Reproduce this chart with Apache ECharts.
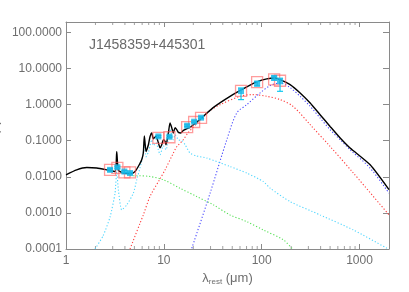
<!DOCTYPE html>
<html><head><meta charset="utf-8">
<script src="https://cdn.jsdelivr.net/npm/echarts@6/dist/echarts.min.js"></script>
<style>html,body{margin:0;padding:0;background:#fff}#c{width:409px;height:292px}</style>
</head><body><div id="c"></div>
<script>
// ---- data (rest wavelength in micron, flux) ----
const objectName = 'J1458359+445301';
const xTicks = [1, 10, 100, 1000];
const yTicks = [0.0001, 0.001, 0.01, 0.1, 1, 10, 100];
const minorX = [2,3,4,5,6,7,8,9,20,30,40,50,60,70,80,90,200,300,400,500,600,700,800,900];

const totalLam  = [1,1.285,1.63,2.06,2.61,3.17,3.30,3.43,3.85,4.70,5.08,5.48,5.94,6.17,6.32,6.58,6.95,7.22,7.52,7.81,8.32,8.79,9.14,9.52,9.89,10.29,10.53,11.12,11.57,12.04,12.50,13.02,13.55,14.07,14.89,15.83,18.5,23.5,31.9,47.5,70.4,89.1,112.8,137,154,195,247,313,395,500,634,801,1283,2000];
const totalFlux = [0.0114,0.0156,0.0181,0.0175,0.0156,0.0140,0.0494,0.0152,0.0127,0.0124,0.0140,0.0193,0.0296,0.0464,0.135,0.0505,0.0774,0.129,0.164,0.114,0.1315,0.088,0.064,0.0774,0.1066,0.0957,0.0774,0.164,0.31,0.23,0.164,0.23,0.202,0.170,0.164,0.193,0.237,0.395,0.826,1.70,3.10,4.27,5.18,5.45,4.95,3.59,2.11,1.11,0.527,0.249,0.119,0.0627,0.0215,0.0044];

const pahLam  = [1.98,2.39,2.82,3.17,3.30,3.43,3.71,4.18,4.88,5.28,5.71,6.13,6.32,6.58,6.98,7.52,7.81,8.32,8.79,9.14,9.89,10.53,11.57,12.50,13.02,14.07,15.35,16.5,18.5,21.3,27.5,47.5,70.4,104,122,195,395,866,1900];
const pahFlux = [0.0001,0.00023,0.00077,0.00352,0.0138,0.00436,0.00121,0.00167,0.00352,0.00826,0.0178,0.0408,0.0938,0.036,0.0494,0.1066,0.0726,0.088,0.0562,0.0408,0.0726,0.0562,0.202,0.1066,0.147,0.1066,0.1,0.0774,0.0455,0.0383,0.033,0.0193,0.0127,0.0074,0.00485,0.00206,0.00088,0.000337,0.000105];

const hotLam  = [4.5,5.28,7.22,9.89,14.6,21.7,32.1,47.5,70.4,104,167,203,210];
const hotFlux = [0.0107,0.0107,0.0102,0.00826,0.00485,0.00284,0.00167,0.00088,0.000573,0.000337,0.000178,0.000105,0.000092];

const warmLam  = [4.51,5.71,6.17,7.22,9.14,10.29,12.5,13.55,15.8,17.7,23.5,29.7,37.6,60.1,81.6,112.8,154,209,313,500,866,2000];
const warmFlux = [0.0001,0.000518,0.00088,0.00284,0.0088,0.0156,0.0455,0.068,0.1066,0.167,0.371,0.681,1.0,1.70,1.90,1.70,1.38,0.898,0.278,0.0695,0.0127,0.00088];

const coldLam  = [19.3,29.7,44.0,55.6,70.4,96.3,122,154,195,247,313,395,500,634,801,1283,2000];
const coldFlux = [0.000105,0.00352,0.1066,0.587,1.0,2.11,3.37,4.01,2.97,1.70,0.898,0.428,0.202,0.1066,0.0562,0.01746,0.00352];

const photLam   = [2.82,3.35,3.95,4.51,8.79,11.4,17.3,20.4,24.0,61.5,89.8,134,154];
const photFlux  = [0.0156,0.0184,0.0140,0.0127,0.1315,0.129,0.261,0.337,0.436,2.37,3.83,5.52,4.44];
const photErrLo = [0.0145,0.0172,0.0131,0.0119,0.124,0.121,0.246,0.318,0.411,1.38,3.3,4.8,2.34];
const photErrHi = [0.0167,0.0196,0.0149,0.0135,0.139,0.137,0.276,0.356,0.461,2.9,4.4,6.2,5.4];
const modelFlux = [0.0156,0.0178,0.0133,0.0133,0.1205,0.125,0.237,0.33,0.43,2.4,4.2,5.0,4.6];

// ---- helpers ----
const pairs = (xs, ys) => xs.map((x, i) => [x, ys[i]]);
const xMin = 1, xMax = 2000, yMin = 0.0001, yMax = 195;
const axisColor = '#8a8a8a', textColor = '#6e6e6e';
const dotted = (c) => ({color: c, width: 1.1, type: [1.2, 2]});

const chart = echarts.init(document.getElementById('c'), null, {renderer: 'canvas'});
const option = {
  animation: false,
  backgroundColor: '#fff',
  grid: {left: 66, right: 20, top: 22, bottom: 43, containLabel: false, outerBoundsMode: 'none'},
  graphic: [{type: 'text', left: 89, top: 38, style: {text: objectName, fill: '#6a6a6a', font: '14px "Liberation Sans", Arial, sans-serif'}}],
  xAxis: [{
    type: 'log', logBase: 10, min: xMin, max: xMax, position: 'bottom',
    axisLine: {show: true, lineStyle: {color: axisColor, width: 1}},
    axisTick: {show: true, inside: true, length: 5, lineStyle: {color: axisColor}},
    splitLine: {show: false},
    axisLabel: {color: textColor, fontSize: 12, margin: 6, fontFamily: 'Liberation Sans', showMaxLabel: false,
      formatter: v => { const r = xTicks.find(t => Math.abs(Math.log10(t) - Math.log10(v)) < 1e-6); return r ? String(r) : ''; }},
    name: '{a|λ}{s|rest}{a| (μm)}', nameLocation: 'middle', nameGap: 19,
    nameTextStyle: {rich: {a: {fontSize: 13, color: textColor, fontFamily: 'Liberation Sans'}, s: {fontSize: 8, color: textColor, verticalAlign: 'bottom', padding: [6,0,0,0], fontFamily: 'Liberation Sans'}}}
  }, {
    type: 'log', logBase: 10, min: xMin, max: xMax, position: 'top',
    axisLine: {show: true, lineStyle: {color: axisColor, width: 1}},
    axisTick: {show: true, inside: true, length: 5, lineStyle: {color: axisColor}},
    axisLabel: {show: false}, splitLine: {show: false}
  }],
  yAxis: [{
    type: 'log', logBase: 10, min: yMin, max: yMax, position: 'left',
    axisLine: {show: true, lineStyle: {color: axisColor, width: 1}},
    axisTick: {show: true, inside: true, length: 5, lineStyle: {color: axisColor}},
    splitLine: {show: false},
    axisLabel: {color: textColor, fontSize: 12, margin: 4, fontFamily: 'Liberation Sans', showMaxLabel: false,
      formatter: v => { const r = yTicks.find(t => Math.abs(Math.log10(t) - Math.log10(v)) < 1e-6); return r !== undefined ? r.toFixed(4) : ''; }},
    name: '{a|F}{s|ν}{a| (λ)}', nameLocation: 'middle', nameGap: 60,
    nameTextStyle: {rich: {a: {fontSize: 13, color: textColor}, s: {fontSize: 8, color: textColor}}}
  }, {
    type: 'log', logBase: 10, min: yMin, max: yMax, position: 'right',
    axisLine: {show: true, lineStyle: {color: axisColor, width: 1}},
    axisTick: {show: true, inside: true, length: 6, lineStyle: {color: axisColor}},
    axisLabel: {show: false}, splitLine: {show: false}
  }],
  series: [
    {name: 'minorBottom', type: 'scatter', silent: true, clip: false, symbol: 'rect', symbolSize: [1, 3], symbolOffset: [0, -1.5],
      itemStyle: {color: axisColor}, data: minorX.map(x => [x, yMin]), z: 1},
    {name: 'minorTop', type: 'scatter', silent: true, clip: false, symbol: 'rect', symbolSize: [1, 3], symbolOffset: [0, 1.5],
      itemStyle: {color: axisColor}, data: minorX.map(x => [x, yMax]), z: 1},
    {name: 'hot', type: 'line', showSymbol: false, smooth: 0.3, lineStyle: dotted('#55e055'), data: pairs(hotLam, hotFlux), z: 2},
    {name: 'warm', type: 'line', showSymbol: false, smooth: 0.3, lineStyle: dotted('#ff3a3a'), data: pairs(warmLam, warmFlux), z: 2},
    {name: 'cold', type: 'line', showSymbol: false, smooth: 0.3, lineStyle: dotted('#4a4aff'), data: pairs(coldLam, coldFlux), z: 2},
    {name: 'pah', type: 'line', showSymbol: false, smooth: 0.2, lineStyle: dotted('#4fd6ff'), data: pairs(pahLam, pahFlux), z: 3},
    {name: 'total', type: 'line', showSymbol: false, smooth: 0.2, lineStyle: {color: '#000', width: 1.4}, data: pairs(totalLam, totalFlux), z: 5},
    {name: 'model', type: 'scatter', symbol: 'rect', symbolSize: 11,
      itemStyle: {color: 'rgba(0,0,0,0)', borderColor: 'rgba(255,90,90,0.75)', borderWidth: 1.3}, data: pairs(photLam, modelFlux), z: 6},
    {name: 'err', type: 'custom', z: 7, data: photLam.map((x, i) => [x, photErrLo[i], photErrHi[i]]),
      renderItem: (params, api) => {
        const lo = api.coord([api.value(0), api.value(1)]);
        const hi = api.coord([api.value(0), api.value(2)]);
        const st = {stroke: '#12c8ef', lineWidth: 1.2};
        return {type: 'group', children: [
          {type: 'line', shape: {x1: lo[0], y1: lo[1], x2: hi[0], y2: hi[1]}, style: st},
          {type: 'line', shape: {x1: lo[0]-3, y1: lo[1], x2: lo[0]+3, y2: lo[1]}, style: st},
          {type: 'line', shape: {x1: hi[0]-3, y1: hi[1], x2: hi[0]+3, y2: hi[1]}, style: st}
        ]};
      }},
    {name: 'phot', type: 'scatter', symbol: 'rect', symbolSize: 6, itemStyle: {color: '#14b4e6'}, data: pairs(photLam, photFlux), z: 8}
  ]
};
chart.setOption(option);
</script></body></html>
